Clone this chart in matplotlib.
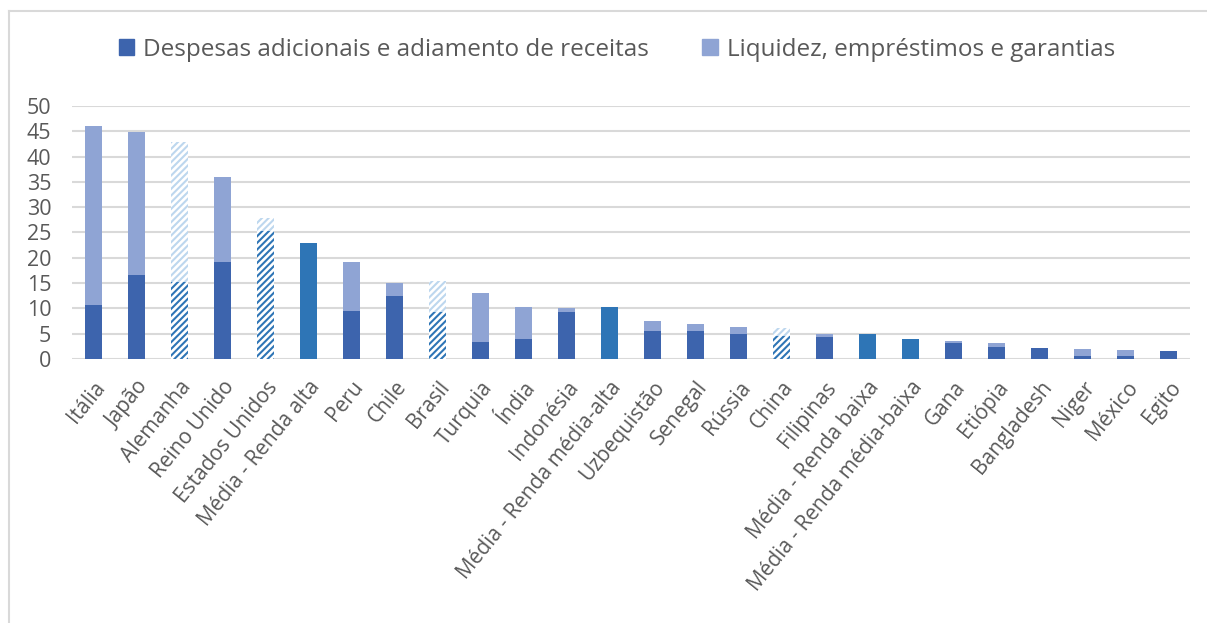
"""Medidas fiscais em resposta à COVID-19 (% do PIB) - barras empilhadas."""
import matplotlib
matplotlib.use("Agg")
import matplotlib.pyplot as plt
from matplotlib.lines import Line2D
from matplotlib.patches import Patch

plt.rcParams["font.family"] = ["Open Sans", "DejaVu Sans"]
plt.rcParams["hatch.linewidth"] = 1.5

categorias = [
    "Itália", "Japão", "Alemanha", "Reino Unido", "Estados Unidos",
    "Média - Renda alta", "Peru", "Chile", "Brasil", "Turquia", "Índia",
    "Indonésia", "Média - Renda média-alta", "Uzbequistão", "Senegal",
    "Rússia", "China", "Filipinas", "Média - Renda baixa",
    "Média - Renda média-baixa", "Gana", "Etiópia", "Bangladesh", "Niger",
    "México", "Egito",
]
despesas = [10.7, 16.6, 15.2, 19.2, 25.3, 22.9, 9.5, 12.5, 9.2, 3.4, 4.0,
            9.3, 10.3, 5.6, 5.6, 4.9, 4.6, 4.4, 4.9, 3.95, 3.2, 2.4, 2.2,
            0.6, 0.6, 1.5]
liquidez = [35.3, 28.3, 27.7, 16.7, 2.5, 0.0, 9.6, 2.6, 6.2, 9.7, 6.2,
            0.8, 0.0, 2.0, 1.3, 1.5, 1.5, 0.5, 0.0, 0.0, 0.35, 0.7, 0.0,
            1.4, 1.2, 0.1]
hachurados = ["Alemanha", "Estados Unidos", "Brasil", "China"]

C_DESP = "#3D64AD"
C_LIQ = "#8FA4D4"
C_MEDIA = "#2E75B6"
C_HATCH_TOP = "#BDD7EE"
C_TEXT = "#595959"
C_GRID = "#D9D9D9"
W = 0.4

fig = plt.figure(figsize=(12.07, 6.23), dpi=100)
ax = fig.add_axes([0.0597, 0.4238, 0.9263, 0.4061])

for i, nome in enumerate(categorias):
    d, l = despesas[i], liquidez[i]
    if nome.startswith("Média"):
        ax.bar(i, d, W, color=C_MEDIA, zorder=3)
    elif nome in hachurados:
        ax.bar(i, d, W, facecolor="white", edgecolor=C_MEDIA, hatch="/////",
               linewidth=0, zorder=3)
        ax.bar(i, l, W, bottom=d, facecolor="white", edgecolor=C_HATCH_TOP,
               hatch="/////", linewidth=0, zorder=3)
    else:
        ax.bar(i, d, W, color=C_DESP, zorder=3)
        ax.bar(i, l, W, bottom=d, color=C_LIQ, zorder=3)

ax.set_xlim(-0.5, len(categorias) - 0.5)
ax.set_ylim(0, 50)
ax.set_yticks(range(0, 51, 5))
ax.set_xticks(range(len(categorias)))
ax.set_xticklabels(categorias, rotation=51, ha="right", va="top",
                   rotation_mode="anchor", fontsize=15, color=C_TEXT)
ax.tick_params(axis="y", labelsize=15.5, labelcolor=C_TEXT, length=0, pad=15)
ax.tick_params(axis="x", length=0, pad=13)
ax.grid(axis="y", color=C_GRID, linewidth=1.5, zorder=0)
for s in ax.spines.values():
    s.set_visible(False)

handles = [Patch(color=C_DESP), Patch(color=C_LIQ)]
labels = ["Despesas adicionais e adiamento de receitas",
          "Liquidez, empréstimos e garantias"]
leg = fig.legend(handles, labels, loc="center", bbox_to_anchor=(0.511, 0.92),
                 ncol=2, frameon=False, fontsize=17.5, handlelength=0.65,
                 handleheight=0.65, handletextpad=0.35, columnspacing=2.2)
for t in leg.get_texts():
    t.set_color(C_TEXT)

# moldura da área do gráfico (só topo e esquerda aparecem no recorte)
fig.add_artist(Line2D([9 / 1207, 9 / 1207], [0, 1 - 11 / 623],
                      transform=fig.transFigure, color=C_GRID, lw=1.5))
fig.add_artist(Line2D([9 / 1207, 1], [1 - 11 / 623, 1 - 11 / 623],
                      transform=fig.transFigure, color=C_GRID, lw=1.5))

fig.savefig("out.png", dpi=100, facecolor="white")
